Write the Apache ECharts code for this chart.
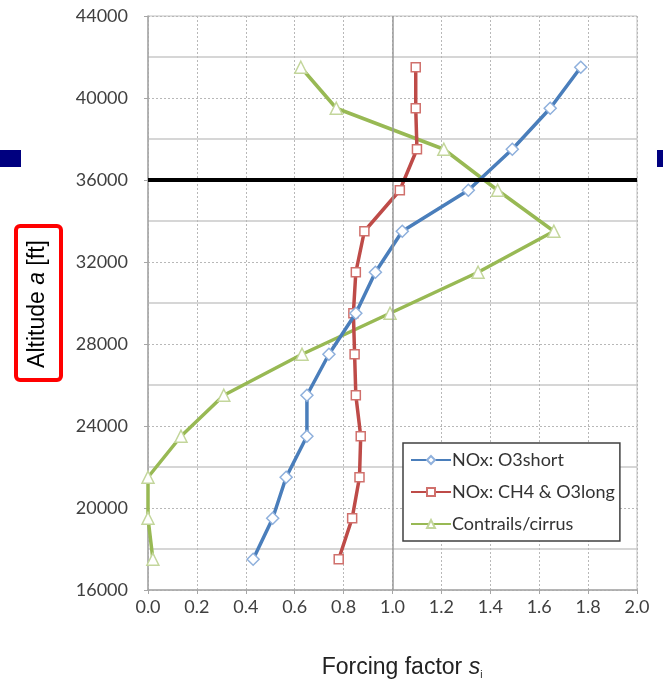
<!DOCTYPE html>
<html>
<head>
<meta charset="utf-8">
<script src="https://cdn.jsdelivr.net/npm/echarts@6/dist/echarts.min.js"></script>
<style>html,body{margin:0;padding:0;background:#fff;}#c{width:663px;height:682px;}</style>
</head>
<body>
<div id="c"></div>
<script>
var altitudes = [17500, 19500, 21500, 23500, 25500, 27500, 29500, 31500, 33500, 35500, 37500, 39500, 41500];
var o3short = [0.43, 0.51, 0.565, 0.65, 0.65, 0.74, 0.85, 0.93, 1.04, 1.31, 1.49, 1.645, 1.77];
var ch4o3long = [0.78, 0.835, 0.865, 0.87, 0.85, 0.845, 0.84, 0.85, 0.885, 1.03, 1.10, 1.095, 1.095];
var contrails = [0.02, 0.0, 0.0, 0.135, 0.31, 0.63, 0.99, 1.35, 1.66, 1.43, 1.21, 0.77, 0.625];
var seriesNames = ['NOx: O3short', 'NOx: CH4 & O3long', 'Contrails/cirrus'];
var refAltitude = 36000;
var xTicks = {min: 0, max: 2, interval: 0.2};
var yTicks = {min: 16000, max: 44000, interval: 4000};

function pairs(vals) { return vals.map(function (v, i) { return [v, altitudes[i]]; }); }

var chart = echarts.init(document.getElementById('c'), null, {renderer: 'canvas'});
var labelFont = 'Lato, "Open Sans", sans-serif';

chart.setOption({
  animation: false,
  backgroundColor: '#ffffff',
  grid: {left: 148, right: 26, top: 16, bottom: 92, show: true, borderColor: '#c0c0c0', borderWidth: 1, backgroundColor: 'transparent'},
  xAxis: {
    type: 'value', min: xTicks.min, max: xTicks.max, interval: xTicks.interval,
    axisLine: {show: true, lineStyle: {color: '#a6a6a6', width: 1.5}},
    axisTick: {show: true, length: 4, lineStyle: {color: '#a6a6a6'}},
    axisLabel: {color: '#404040', fontSize: 18, fontFamily: labelFont, margin: 8, formatter: function (v) { return v.toFixed(1); }},
    splitLine: {show: true, lineStyle: {color: '#b8b8b8', type: [2, 2], width: 1}}
  },
  yAxis: {
    type: 'value', min: yTicks.min, max: yTicks.max, interval: yTicks.interval,
    axisLine: {show: true, lineStyle: {color: '#a6a6a6', width: 1.5}},
    axisTick: {show: true, length: 4, lineStyle: {color: '#a6a6a6'}},
    axisLabel: {color: '#404040', fontSize: 18, fontFamily: labelFont, margin: 20, formatter: function (v) { return String(v); }},
    splitLine: {show: true, lineStyle: {color: '#b8b8b8', type: [2, 2], width: 1}},
    minorTick: {show: false, splitNumber: 2},
    minorSplitLine: {show: true, lineStyle: {color: '#c8c8c8', width: 1.5, type: 'solid'}}
  },
  legend: {
    orient: 'vertical', left: 403, top: 443,
    data: seriesNames,
    backgroundColor: '#ffffff',
    borderColor: '#404040', borderWidth: 1.5, borderRadius: 0,
    padding: [8, 5, 8, 7],
    itemGap: 14, itemWidth: 40, itemHeight: 10,
    textStyle: {color: '#333333', fontSize: 18, fontFamily: labelFont, padding: [0, 0, 0, -4]}
  },
  series: [
    {
      name: seriesNames[0], type: 'line', data: pairs(o3short), z: 4,
      symbol: 'diamond', symbolSize: 12,
      lineStyle: {color: '#4a7ebb', width: 3.5},
      itemStyle: {color: '#ffffff', borderColor: '#8fb0dc', borderWidth: 1.5},
      markLine: {
        silent: true, symbol: 'none', label: {show: false},
        data: [
          {xAxis: 1.0, lineStyle: {color: '#9a9a9a', width: 1.5, type: 'solid'}},
          {yAxis: refAltitude, lineStyle: {color: '#000000', width: 4, type: 'solid'}}
        ]
      }
    },
    {
      name: seriesNames[1], type: 'line', data: pairs(ch4o3long), z: 3,
      symbol: 'rect', symbolSize: 9,
      lineStyle: {color: '#be4b48', width: 3.5},
      itemStyle: {color: '#ffffff', borderColor: '#d0706c', borderWidth: 1.5}
    },
    {
      name: seriesNames[2], type: 'line', data: pairs(contrails), z: 2,
      symbol: 'triangle', symbolSize: 12,
      lineStyle: {color: '#98b954', width: 3.5},
      itemStyle: {color: '#ffffff', borderColor: '#c3d69b', borderWidth: 1.5}
    }
  ],
  graphic: [
    {type: 'rect', shape: {x: 0, y: 150, width: 21, height: 17}, style: {fill: '#00007f'}},
    {type: 'rect', shape: {x: 657, y: 150, width: 6, height: 17}, style: {fill: '#00007f'}},
    {type: 'rect', shape: {x: 16, y: 226, width: 45, height: 154, r: 4}, style: {fill: 'none', stroke: '#ff0000', lineWidth: 4}},
    {
      type: 'text', x: 38, y: 304, rotation: Math.PI / 2,
      style: {
        text: '{n|Altitude }{i|a}{n| [ft]}',
        align: 'center', verticalAlign: 'middle',
        rich: {
          n: {fontSize: 23, fontFamily: 'Liberation Sans, Arial, sans-serif', fill: '#000000'},
          i: {fontSize: 23, fontStyle: 'italic', fontFamily: 'Liberation Sans, Arial, sans-serif', fill: '#000000'}
        }
      }
    },
    {
      type: 'text', x: 402, y: 668,
      style: {
        text: '{n|Forcing factor }{i|s}{sub|i}',
        align: 'center', verticalAlign: 'middle',
        rich: {
          n: {fontSize: 23, fontFamily: 'Liberation Sans, Arial, sans-serif', fill: '#222222'},
          i: {fontSize: 23, fontStyle: 'italic', fontFamily: 'Liberation Sans, Arial, sans-serif', fill: '#222222'},
          sub: {fontSize: 10, fontFamily: 'Liberation Sans, Arial, sans-serif', fill: '#222222', padding: [14, 0, 0, 0]}
        }
      }
    }
  ]
});
</script>
</body>
</html>
